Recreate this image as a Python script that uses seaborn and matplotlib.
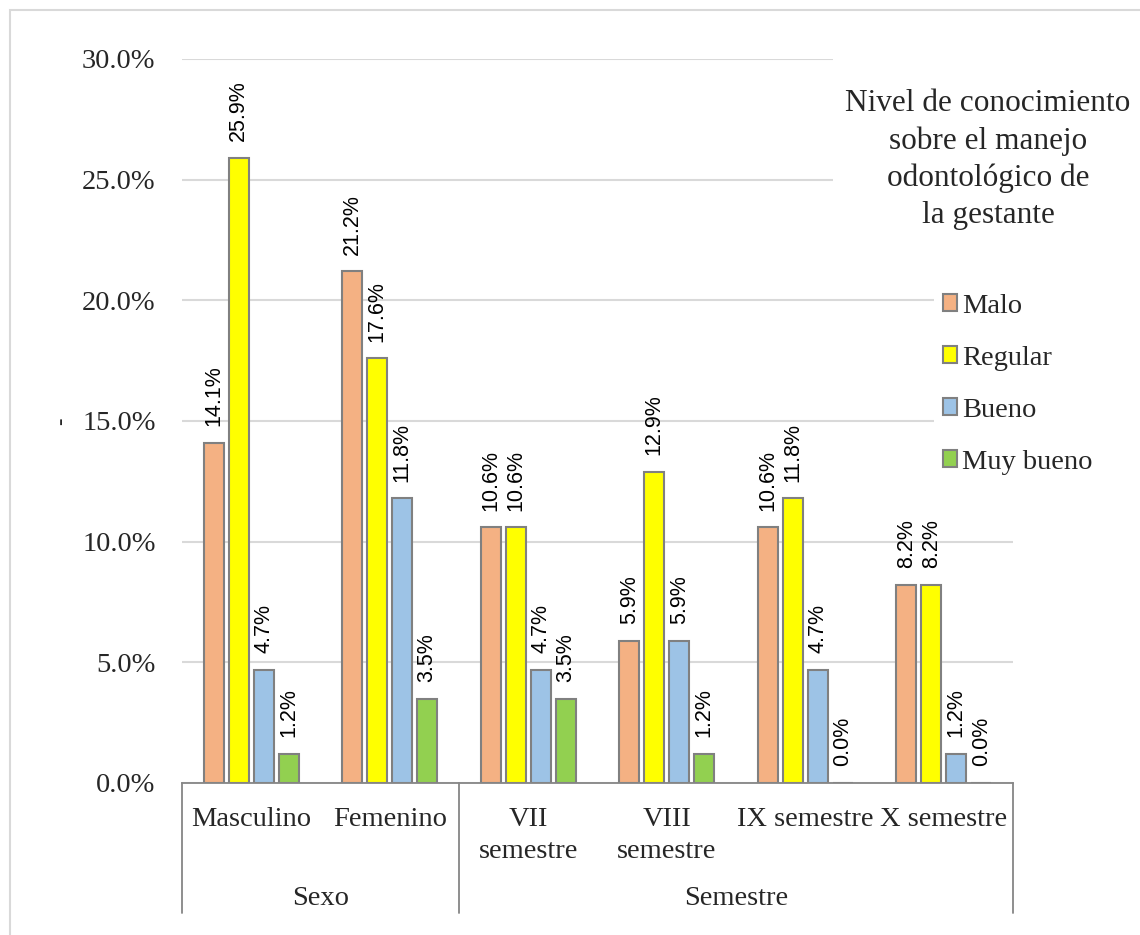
import matplotlib
matplotlib.use("Agg")
import matplotlib.pyplot as plt
import pandas as pd
import seaborn as sns
from matplotlib.patches import Rectangle

categorias = ["Masculino", "Femenino", "VII\nsemestre", "VIII\nsemestre", "IX semestre", "X semestre"]
grupos = ["Sexo", "Semestre"]
tamanos_grupo = [2, 4]
niveles = ["Malo", "Regular", "Bueno", "Muy bueno"]
colores = ["#F4B183", "#FFFF00", "#9DC3E6", "#92D050"]

malo = [14.1, 21.2, 10.6, 5.9, 10.6, 8.2]
regular = [25.9, 17.6, 10.6, 12.9, 11.8, 8.2]
bueno = [4.7, 11.8, 4.7, 5.9, 4.7, 1.2]
muy_bueno = [1.2, 3.5, 3.5, 1.2, 0.0, 0.0]

titulo_leyenda = "Nivel de conocimiento\nsobre el manejo\nodontológico de\nla gestante"

df = pd.DataFrame({
    "categoria": categorias * 4,
    "nivel": [n for n in niveles for _ in categorias],
    "valor": malo + regular + bueno + muy_bueno,
})

sns.set_style("white")
plt.rcParams["font.family"] = ["Liberation Serif", "DejaVu Serif"]

fig = plt.figure(figsize=(11.4, 9.35), dpi=100)
ax = fig.add_axes([182 / 1140, 1 - 783 / 935, (1013 - 182) / 1140, (783 - 59) / 935])

sns.barplot(
    data=df, x="categoria", y="valor", hue="nivel",
    hue_order=niveles, palette=colores, saturation=1,
    width=0.72, gap=0.2, errorbar=None,
    edgecolor="#808080", linewidth=1.5, ax=ax,
)

for cont in ax.containers:
    ax.bar_label(cont, fmt="{:.1f}%", rotation=90, padding=12,
                 fontsize=15.5, family="Liberation Sans", color="#000000")

ax.set_ylim(0, 30)
ax.set_xlim(-0.5, len(categorias) - 0.5)
ax.set_yticks(range(0, 31, 5))
ax.yaxis.set_major_formatter(lambda v, p: f"{v:.1f}%")
ax.tick_params(axis="y", length=0, pad=19, labelsize=20.5)
ax.tick_params(axis="x", length=0, pad=17, labelsize=20.5)
for t in ax.get_xticklabels():
    t.set_linespacing(1.4)
ax.yaxis.grid(True, color="#d9d9d9", linewidth=1.5)
ax.set_axisbelow(True)
ax.set_xlabel("")
ax.set_ylabel("-", fontsize=16, labelpad=8)

for s in ["top", "right", "left"]:
    ax.spines[s].set_visible(False)
ax.spines["bottom"].set_color("#868686")
ax.spines["bottom"].set_linewidth(1.3)

# segundo nivel del eje de categorias
trans = ax.get_xaxis_transform()
inicio = -0.5
bordes = [inicio]
for g, n in zip(grupos, tamanos_grupo):
    fin = inicio + n
    ax.text((inicio + fin) / 2, -0.159, g, transform=trans,
            ha="center", va="center", fontsize=20.5)
    bordes.append(fin)
    inicio = fin
for b in bordes:
    ax.plot([b, b], [0, -0.18], transform=trans, color="#868686",
            linewidth=1.3, clip_on=False)

# leyenda
handles, labels = ax.get_legend_handles_labels()
if ax.legend_:
    ax.legend_.remove()
fig.patches.append(Rectangle((833 / 1140, 1 - 240 / 935), 0.3, 200 / 935,
                             transform=fig.transFigure, facecolor="white",
                             edgecolor="none", zorder=1))
fig.text(988 / 1140, 1 - 89 / 935, titulo_leyenda, ha="center", va="top",
         multialignment="center", fontsize=22.5, linespacing=1.36, zorder=2)
for h in handles:
    h.set_edgecolor("#808080")
leg = fig.legend(handles, labels, loc="upper left",
                 bbox_to_anchor=(934 / 1140, 1 - 285 / 935),
                 fontsize=20.5, frameon=True, facecolor="white", edgecolor="none",
                 framealpha=1, fancybox=False, handlelength=0.5,
                 handleheight=0.5, handletextpad=0.2, labelspacing=0.95,
                 borderpad=0.3, borderaxespad=0)

fig.patches.append(Rectangle((10 / 1140, -0.02), 1.1, 1 - 10 / 935 + 0.02,
                             transform=fig.transFigure, facecolor="none",
                             edgecolor="#d9d9d9", linewidth=1.5, zorder=3))

fig.savefig("out.png", dpi=100)
